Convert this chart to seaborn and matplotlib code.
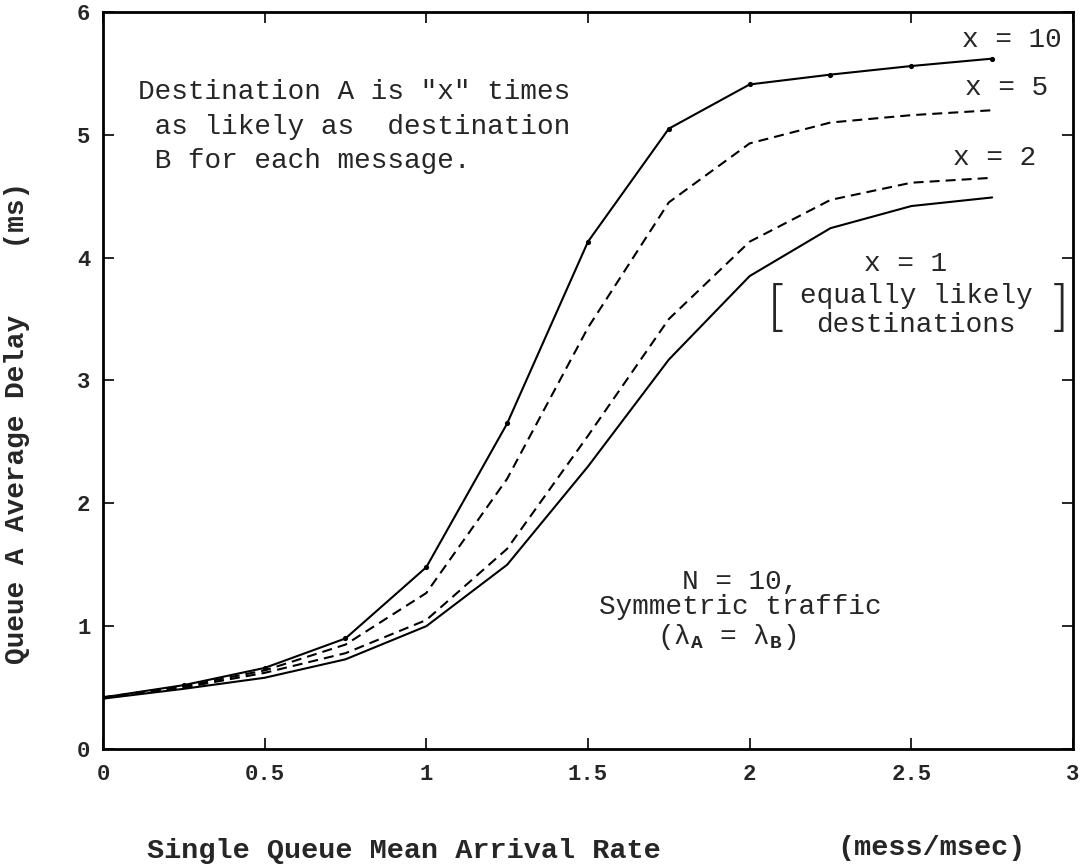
import numpy as np
import pandas as pd
import matplotlib
matplotlib.use("Agg")
import matplotlib.pyplot as plt
import seaborn as sns

# ---- data ----
arrival_rate = [0, 0.25, 0.5, 0.75, 1.0, 1.25, 1.5, 1.75, 2.0, 2.25, 2.5, 2.75]
delay_x10 = [0.42, 0.52, 0.66, 0.90, 1.48, 2.65, 4.13, 5.05, 5.41, 5.49, 5.56, 5.62]
delay_x5 = [0.42, 0.51, 0.64, 0.85, 1.27, 2.20, 3.43, 4.45, 4.93, 5.10, 5.16, 5.20]
delay_x2 = [0.42, 0.50, 0.62, 0.78, 1.05, 1.63, 2.55, 3.50, 4.13, 4.47, 4.61, 4.65]
delay_x1 = [0.41, 0.49, 0.58, 0.73, 1.00, 1.50, 2.30, 3.17, 3.85, 4.24, 4.42, 4.49]
series_names = ["x = 10", "x = 5", "x = 2", "x = 1"]
xticks = [0, 0.5, 1, 1.5, 2, 2.5, 3]
xtick_labels = ["0", "0.5", "1", "1.5", "2", "2.5", "3"]
yticks = [0, 1, 2, 3, 4, 5, 6]

df = pd.DataFrame({
    "rate": arrival_rate * 4,
    "delay": delay_x10 + delay_x5 + delay_x2 + delay_x1,
    "series": sum([[n] * len(arrival_rate) for n in series_names], []),
})

sns.set_theme(style="ticks")
plt.rcParams["font.family"] = ["Liberation Mono", "DejaVu Sans Mono", "DejaVu Sans"]
plt.rcParams["mathtext.fontset"] = "custom"
plt.rcParams["mathtext.bf"] = "Liberation Mono:bold"
plt.rcParams["mathtext.rm"] = "Liberation Mono"

fig = plt.figure(figsize=(10.92, 8.67), dpi=100)
ax = fig.add_axes([0.0943, 0.1361, 0.8883, 0.8501])

sns.lineplot(data=df, x="rate", y="delay", hue="series", style="series",
             hue_order=series_names, style_order=series_names,
             palette=["black"] * 4,
             dashes={"x = 10": "", "x = 5": (4.8, 2.9), "x = 2": (4.8, 2.9), "x = 1": ""},
             linewidth=1.5, legend=False, ax=ax, sort=False)

# dots on the x = 10 curve
sns.scatterplot(x=arrival_rate, y=delay_x10, color="black", s=14, ax=ax,
                legend=False, zorder=5, edgecolor="black", linewidth=0)

ax.set_xlim(0, 3)
ax.set_ylim(0, 6)
ax.set_xticks(xticks)
ax.set_xticklabels(xtick_labels)
ax.set_yticks(yticks)
ax.tick_params(axis="both", direction="in", length=8, width=1.4, top=True, right=True,
               labelsize=16)
ax.tick_params(axis="x", pad=11)
ax.tick_params(axis="y", pad=9)
for lab in ax.get_xticklabels() + ax.get_yticklabels():
    lab.set_fontweight("bold")
for s in ax.spines.values():
    s.set_linewidth(2.0)
    s.set_color("black")
ax.set_xlabel("")
ax.set_ylabel("")

fs = 20
ax.text(0.108, 5.35, 'Destination A is "x" times', fontsize=fs, ha="left", va="center")
ax.text(0.108, 5.06, ' as likely as  destination', fontsize=fs, ha="left", va="center")
ax.text(0.108, 4.79, ' B for each message.', fontsize=fs, ha="left", va="center")

ax.text(2.657, 5.77, "x = 10", fontsize=fs, ha="left", va="center")
ax.text(2.666, 5.38, "x = 5", fontsize=fs, ha="left", va="center")
ax.text(2.629, 4.81, "x = 2", fontsize=fs, ha="left", va="center")
ax.text(2.483, 3.95, "x = 1", fontsize=fs, ha="center", va="center")
ax.text(2.515, 3.69, "equally likely", fontsize=fs, ha="center", va="center")
ax.text(2.515, 3.45, "destinations", fontsize=fs, ha="center", va="center")
ax.text(2.085, 3.57, "[", fontsize=40, ha="center", va="center",
        family="DejaVu Sans", fontweight="light")
ax.text(2.955, 3.57, "]", fontsize=40, ha="center", va="center",
        family="DejaVu Sans", fontweight="light")

ax.text(1.97, 1.36, "N = 10,", fontsize=fs, ha="center", va="center")
ax.text(1.97, 1.16, "Symmetric traffic", fontsize=fs, ha="center", va="center")
ax.text(1.93, 0.91, r"(λ$\mathbf{_A}$ = λ$\mathbf{_B}$)", fontsize=fs, ha="center", va="center")

fig.text(0.1346, 0.0185, "Single Queue Mean Arrival Rate", fontsize=20.5, ha="left",
         va="center", fontweight="bold")
fig.text(0.767, 0.0215, "(mess/msec)", fontsize=20.5, ha="left", va="center",
         fontweight="bold")
fig.text(0.016, 0.512, "Queue A Average Delay    (ms)", fontsize=20, ha="center",
         va="center", rotation=90, fontweight="bold")

fig.savefig("out.png", dpi=100)
